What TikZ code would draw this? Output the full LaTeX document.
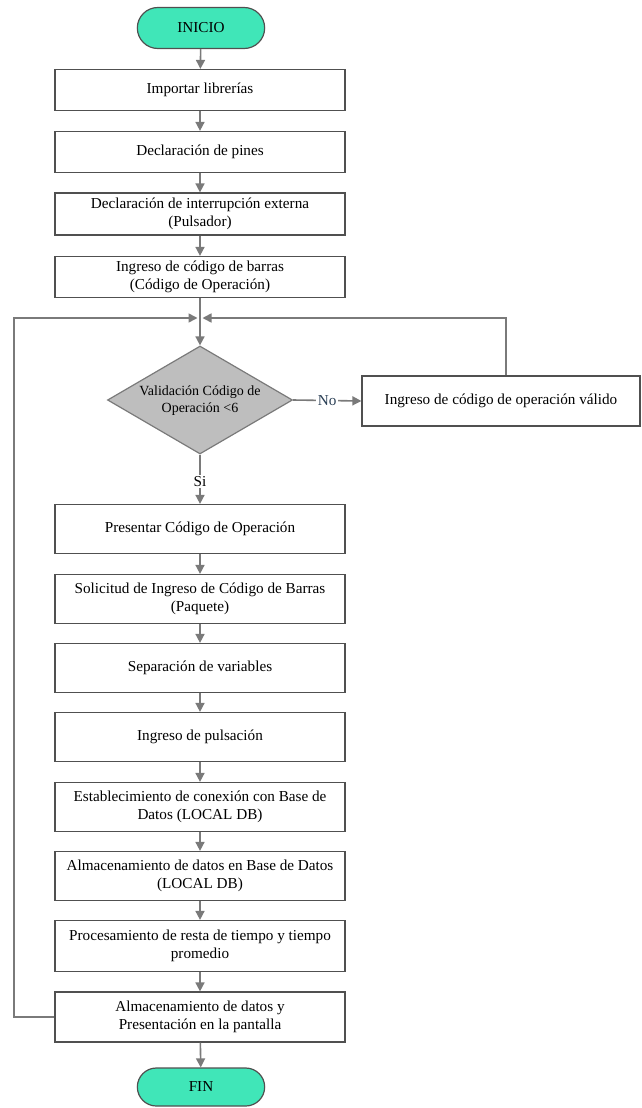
\documentclass[tikz,border=0pt]{standalone}
\usepackage{fontspec}
\setmainfont{Liberation Serif}
\newfontfamily\flowfont{Liberation Serif}
\usetikzlibrary{arrows.meta,shapes.geometric,shapes.misc}

\definecolor{termfill}{HTML}{40E6B8}
\definecolor{edge}{HTML}{505050}
\definecolor{flow}{HTML}{7A7A7A}
\definecolor{decfill}{HTML}{BEBEBE}
\definecolor{nolabel}{HTML}{2A3F55}

\tikzset{
  txt/.style={font=\flowfont\fontsize{15.2}{18}\selectfont},
  procbox/.style={txt, rectangle, draw=edge, line width=1.2pt, fill=white,
    minimum width=290pt, minimum height=49pt, align=center, inner sep=2pt},
  procsmall/.style={procbox, minimum height=41pt},
  terminal/.style={txt, rounded rectangle, draw=edge, line width=1.2pt,
    fill=termfill, minimum width=134pt, minimum height=41pt},
  decision/.style={diamond, draw=flow, line width=1.2pt, fill=decfill,
    minimum width=185pt, minimum height=108pt, inner sep=0pt},
  dectext/.style={font=\flowfont\fontsize{14}{17}\selectfont, align=center, inner sep=0pt},
  flowline/.style={draw=flow, line width=1.6pt},
  arr/.style={flowline, -{Triangle[length=9pt,width=9pt]}},
  lbl/.style={txt, fill=white, inner sep=1.5pt}
}

\begin{document}
\begin{tikzpicture}[x=1pt,y=-1pt]
\useasboundingbox (0,0) rectangle (642,1108);

% main column
\node[terminal] (ini) at (201,28) {INICIO};
\node[procsmall] (b1) at (200,90) {Importar librerías};
\node[procsmall] (b2) at (200,152) {Declaración de pines};
\node[procsmall, minimum height=42pt] (b3) at (200,214) {Declaración de interrupción externa\\(Pulsador)};
\node[procsmall] (b4) at (200,277) {Ingreso de código de barras\\(Código de Operación)};
\node[decision] (dec) at (200,400) {};
\node[dectext] (dect) at ([yshift=-1pt]dec.center) {Validación Código de\\Operación <6};
\node[procbox, minimum width=278pt, minimum height=50pt] (rbox) at (501,401) {Ingreso de código de operación válido};
\node[procbox] (b5) at (200,529) {Presentar Código de Operación};
\node[procbox] (b6) at (200,599) {Solicitud de Ingreso de Código de Barras\\(Paquete)};
\node[procbox] (b7) at (200,668) {Separación de variables};
\node[procbox] (b8) at (200,737) {Ingreso de pulsación};
\node[procbox] (b9) at (200,807) {Establecimiento de conexión con Base de\\Datos (LOCAL DB)};
\node[procbox] (b10) at (200,876) {Almacenamiento de datos en Base de Datos\\(LOCAL DB)};
\node[procbox, minimum height=51pt] (b11) at (200,946) {Procesamiento de resta de tiempo y tiempo\\promedio};
\node[procbox, minimum height=50pt] (b12) at (200,1017) {Almacenamiento de datos y\\Presentación en la pantalla};
\node[terminal, minimum height=38pt] (fin) at (201,1087) {FIN};

% junction above the decision
\coordinate (m) at (200,318);
\coordinate (lc) at (14,318);

% straight flow
\draw[arr] (ini) -- (b1);
\draw[arr] (b1) -- (b2);
\draw[arr] (b2) -- (b3);
\draw[arr] (b3) -- (b4);
\draw[arr] (b4) -- (dec);
\draw[arr] (dec.south) -- node[lbl, pos=0.55] {Si} (b5.north);
\draw[arr] (dec.east) -- node[lbl, text=nolabel] {No} (rbox.west);
\draw[arr] (b5) -- (b6);
\draw[arr] (b6) -- (b7);
\draw[arr] (b7) -- (b8);
\draw[arr] (b8) -- (b9);
\draw[arr] (b9) -- (b10);
\draw[arr] (b10) -- (b11);
\draw[arr] (b11) -- (b12);
\draw[arr] (b12) -- (fin);

% loops back to the decision
\draw[arr] (b12.west) -| (lc) -- ([xshift=-2.5pt]m);
\draw[arr] ([xshift=5pt]rbox.north) |- ([xshift=2.5pt]m);
\end{tikzpicture}
\end{document}
